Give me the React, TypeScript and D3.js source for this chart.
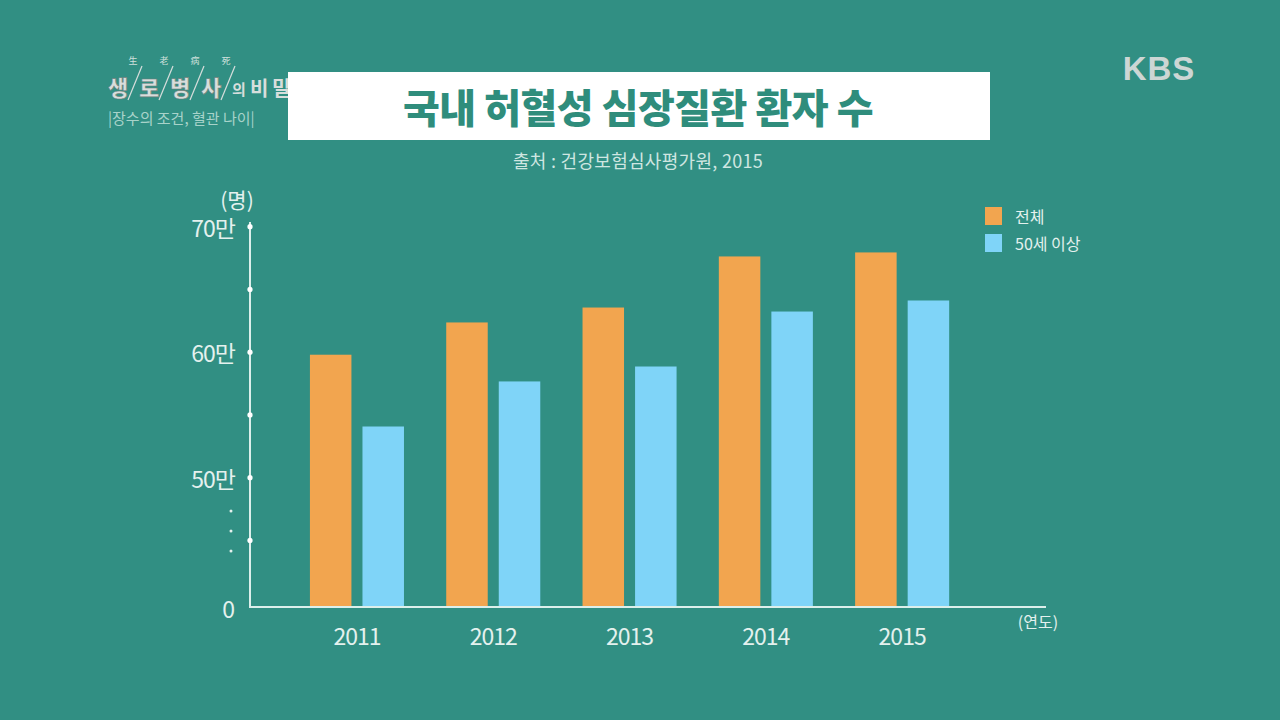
import React from "react";
import * as d3 from "d3";

const years = ["2011", "2012", "2013", "2014", "2015"];
const totalPatients = [598000, 623700, 635600, 676300, 679500];
const over50Patients = [540800, 576700, 588600, 632400, 641200];
const seriesNames = ["전체", "50세 이상"];
const yTickValues = [700000, 600000, 500000];
const yTickLabels = ["70만", "60만", "50만"];
const yDotValues = [700000, 650000, 600000, 550000, 500000, 450000];

const W = 1280;
const H = 720;
const BG = "#318f83";
const ORANGE = "#f2a54f";
const BLUE = "#7fd4f8";
const AXIS = "#dcefeb";
const TEXT = "#e4f1ee";
const FONT = "'Noto Sans CJK KR', 'Noto Sans', sans-serif";

export default function App() {
  const baseY = 607;
  const axisX = 250;
  const x0 = d3.scaleBand<string>().domain(years).range([288.8, 970.3]).paddingInner(0.31).paddingOuter(0.155);
  const x1 = d3.scaleBand<string>().domain(seriesNames).range([0, x0.bandwidth()]).paddingInner(0.21).paddingOuter(0);
  const y = d3.scaleLinear().domain([400000, 700000]).range([603.2, 226.7]);
  const colors = [ORANGE, BLUE];
  const series = [totalPatients, over50Patients];

  return (
    <svg width={W} height={H} style={{ position: "absolute", left: 0, top: 0 }} fontFamily={FONT}>
      <rect x={0} y={0} width={W} height={H} fill={BG} />

      {/* program logo top-left */}
      <g>
        {["生", "老", "病", "死"].map((c, i) => (
          <text key={c} x={133 + i * 31} y={64} fontSize={9} fill="#cfe0dc" textAnchor="middle">{c}</text>
        ))}
        {["생", "로", "병", "사"].map((c, i) => (
          <g key={c}>
            <text x={118 + i * 31} y={96} fontSize={22} fontWeight={900} fill="#d7dedc" stroke="#6b7d79" strokeWidth={0.6} textAnchor="middle">{c}</text>
            <line x1={128 + i * 31} y1={100} x2={142 + i * 31} y2={66} stroke="#d7dedc" strokeWidth={1.2} />
          </g>
        ))}
        <text x={232} y={95} fontSize={15} fontWeight={700} fill="#d7dedc">의</text>
        <text x={250} y={96} fontSize={20} fontWeight={700} fill="#d7dedc">비</text>
        <text x={272} y={96} fontSize={20} fontWeight={700} fill="#d7dedc">밀</text>
        <text x={108} y={124} fontSize={15} fill="#a8d3ca">|장수의 조건, 혈관 나이|</text>
      </g>

      {/* title box */}
      <rect x={288} y={72} width={702} height={68} fill="#ffffff" />
      <text x={638} y={106} fontSize={40} fontWeight={900} fill="#2f8d7c" textAnchor="middle" dominantBaseline="central" letterSpacing={-0.5}>
        국내 허혈성 심장질환 환자 수
      </text>
      <text x={638} y={160} fontSize={18} fill="#cfe6e1" textAnchor="middle" dominantBaseline="central" letterSpacing={0.3}>
        출처 : 건강보험심사평가원, 2015
      </text>

      {/* KBS logo */}
      <text x={1159} y={68} fontSize={33} fontWeight={700} fill="#cdd6d4" textAnchor="middle" dominantBaseline="central" letterSpacing={1} fontFamily="'Liberation Sans', Arial, sans-serif">KBS</text>

      {/* bars */}
      {years.map((yr, i) => (
        <g key={yr} transform={`translate(${x0(yr)},0)`}>
          {seriesNames.map((s, j) => (
            <rect key={s} x={x1(s)} y={y(series[j][i])} width={x1.bandwidth()} height={baseY - y(series[j][i])} fill={colors[j]} />
          ))}
        </g>
      ))}

      {/* axes */}
      <line x1={axisX} y1={222} x2={axisX} y2={baseY} stroke={AXIS} strokeWidth={2} />
      <line x1={axisX - 1} y1={baseY} x2={1046} y2={baseY} stroke={AXIS} strokeWidth={2} />
      {yDotValues.map((v) => (
        <circle key={v} cx={axisX} cy={y(v)} r={2.6} fill="#ffffff" />
      ))}
      {yTickValues.map((v, i) => (
        <text key={v} x={235} y={y(v)} fontSize={23} fill={TEXT} textAnchor="end" dominantBaseline="central" letterSpacing={-1}>
          {yTickLabels[i]}
        </text>
      ))}
      <text x={235} y={baseY + 1} fontSize={23} fill={TEXT} textAnchor="end" dominantBaseline="central">0</text>
      {[511, 531, 551].map((cy) => (
        <circle key={cy} cx={231} cy={cy} r={1.5} fill={TEXT} />
      ))}
      <text x={237} y={199} fontSize={21} fill={TEXT} textAnchor="middle" dominantBaseline="central">(명)</text>

      {years.map((yr) => (
        <text key={yr} x={(x0(yr) as number) + x0.bandwidth() / 2} y={635} fontSize={23} fill={TEXT} textAnchor="middle" dominantBaseline="central" letterSpacing={-1}>
          {yr}
        </text>
      ))}
      <text x={1038} y={621} fontSize={16} fill={TEXT} textAnchor="middle" dominantBaseline="central">(연도)</text>

      {/* legend */}
      {seriesNames.map((s, j) => (
        <g key={s} transform={`translate(985,${207 + j * 27})`}>
          <rect x={0} y={0} width={17} height={18} fill={colors[j]} />
          <text x={30} y={9} fontSize={16} fill={TEXT} dominantBaseline="central">{s}</text>
        </g>
      ))}
    </svg>
  );
}
